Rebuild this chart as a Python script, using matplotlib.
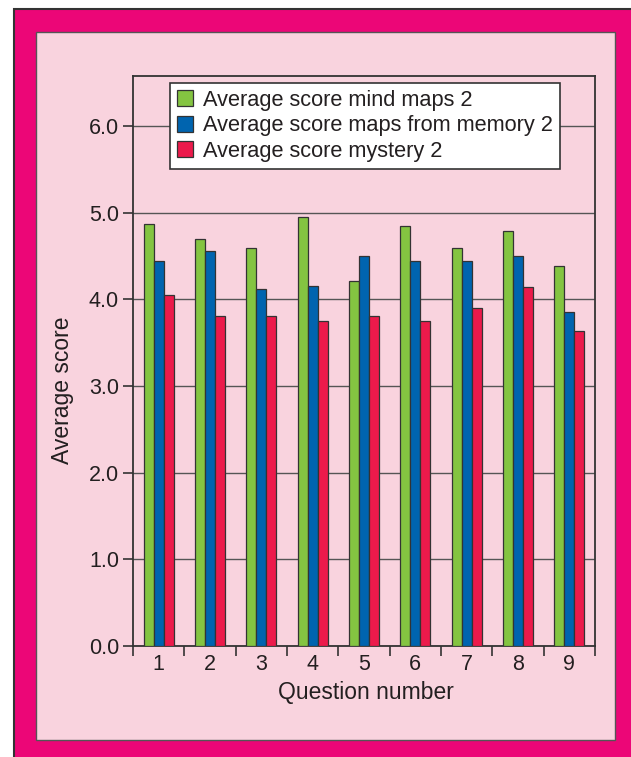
import numpy as np
import matplotlib
matplotlib.use("Agg")
import matplotlib.pyplot as plt
from matplotlib.patches import Rectangle

plt.rcParams["font.family"] = ["Liberation Sans", "DejaVu Sans"]

# data
questions = ["1", "2", "3", "4", "5", "6", "7", "8", "9"]
mind_maps = [4.87, 4.70, 4.60, 4.95, 4.21, 4.85, 4.60, 4.79, 4.39]
maps_memory = [4.45, 4.56, 4.12, 4.16, 4.50, 4.45, 4.45, 4.50, 3.86]
mystery = [4.05, 3.81, 3.81, 3.75, 3.81, 3.75, 3.90, 4.15, 3.64]
series_names = ["Average score mind maps 2",
                "Average score maps from memory 2",
                "Average score mystery 2"]
colors = ["#84C441", "#0064AF", "#EC1A4B"]

W, H = 631, 757
fig = plt.figure(figsize=(W / 100, H / 100), dpi=100)
fig.patch.set_facecolor("white")


def px_rect(x0, y0, x1, y1, **kw):
    # rectangle in pixel coords (origin top-left)
    r = Rectangle((x0 / W, 1 - y1 / H), (x1 - x0) / W, (y1 - y0) / H,
                  transform=fig.transFigure, zorder=-10, **kw)
    fig.patches.append(r)


# magenta frame and pink panel
px_rect(14, 9, 640, 770, facecolor="#EC0677", edgecolor="#333333", lw=1.5)
px_rect(36, 32, 615, 740, facecolor="#F9D3DE", edgecolor="#555555", lw=1.0)

ax = fig.add_axes([133 / W, 1 - 646 / H, (595 - 133) / W, (646 - 76) / H])
ax.set_zorder(5)
ax.set_facecolor("#F9D3DE")

x = np.arange(1, len(questions) + 1)
width = 0.195
for i, (vals, name, c) in enumerate(zip([mind_maps, maps_memory, mystery],
                                        series_names, colors)):
    ax.bar(x + (i - 1) * width, vals, width, color=c, edgecolor="#333333",
           linewidth=0.9, label=name, zorder=3)

ax.set_xlim(0.5, 9.5)
ax.set_ylim(0, 6.58)

ax.set_yticks(np.arange(0, 7, 1.0))
ax.set_yticklabels([f"{v:.1f}" for v in np.arange(0, 7, 1.0)])
ax.yaxis.grid(True, color="#555555", linewidth=1.0, zorder=0)
ax.set_axisbelow(True)

ax.set_xticks(np.arange(0.5, 10, 1.0))
ax.set_xticklabels([])
ax.set_xticks(x, minor=True)
ax.set_xticklabels(questions, minor=True)
ax.tick_params(axis="x", which="major", direction="out", length=7,
               width=1.2, color="#333333")
ax.tick_params(axis="x", which="minor", length=0, pad=6,
               labelsize=15.5, labelcolor="#231F20")
ax.tick_params(axis="y", direction="out", length=7, width=1.2,
               color="#333333", labelsize=15.5, labelcolor="#231F20", pad=3)

for s in ax.spines.values():
    s.set_color("#333333")
    s.set_linewidth(1.3)

fig.text(62 / W, 1 - 390 / H, "Average score", rotation=90, ha="center",
         va="center", fontsize=16.5, color="#231F20")
fig.text(366 / W, 1 - 693 / H, "Question number", ha="center", va="center",
         fontsize=16.5, color="#231F20")

leg = ax.legend(loc="upper left", bbox_to_anchor=(37 / 462, 1 - 7 / 570),
                frameon=True, fancybox=False, fontsize=15.7,
                handlelength=0.75, handleheight=0.75, handletextpad=0.45,
                borderpad=0.32, labelspacing=0.2, borderaxespad=0)
leg.get_frame().set_edgecolor("#333333")
leg.get_frame().set_linewidth(1.2)
leg.get_frame().set_facecolor("white")
leg.get_frame().set_alpha(1)
for t in leg.get_texts():
    t.set_color("#231F20")

fig.savefig("out.png", dpi=100)
